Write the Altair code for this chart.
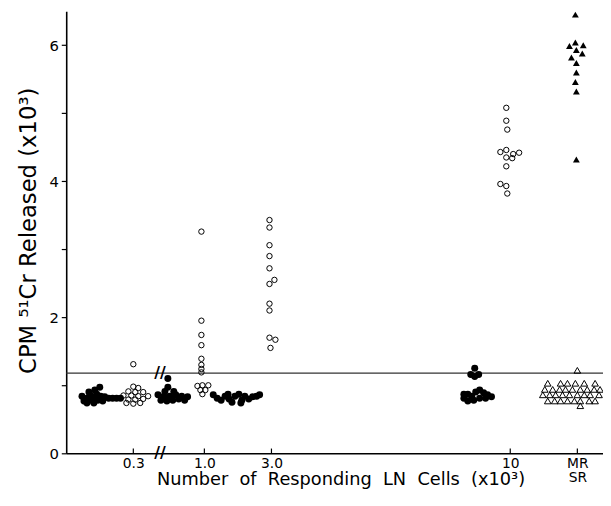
import altair as alt
import pandas as pd

# ---- axis layout (x is a position axis across the plot, 0..544) ----
x_domain = [0, 544]
y_domain = [0, 6.5]
tick_pos = [68, 140, 208, 450, 518]
tick_text = ["0.3", "1.0", "3.0", "10", "MR|SR"]
y_ticks = [0, 1, 2, 3, 4, 5, 6]
cutoff = 1.18          # horizontal reference line
break_pos = 95         # axis break "//"
tick_len = 0.07        # inward tick length on the x axis (data units)

# ---- data: CPM 51Cr released (x10^3) ----
# filled circles, control before 0.3
g1_x = [16, 18, 21, 21, 24, 25, 28, 28, 31, 32, 34, 35, 37, 39, 43, 47, 51, 55, 29, 23]
g1_y = [0.84, 0.77, 0.81, 0.74, 0.86, 0.78, 0.83, 0.74, 0.87, 0.78, 0.97, 0.84, 0.77, 0.83,
        0.81, 0.81, 0.81, 0.81, 0.93, 0.90]
# open circles at 0.3
g2_x = [68, 73, 63, 70, 78, 58, 66, 73, 83, 63, 70, 78, 68, 75, 61, 68]
g2_y = [0.98, 0.96, 0.91, 0.90, 0.90, 0.85, 0.85, 0.84, 0.84, 0.79, 0.79, 0.80, 0.73, 0.74,
        0.74, 1.31]
# filled circles after the break
g3_x = [93, 96, 99, 102, 105, 108, 111, 114, 117, 120, 123, 100, 109, 103, 103]
g3_y = [0.86, 0.78, 0.84, 0.77, 0.84, 0.78, 0.86, 0.80, 0.84, 0.78, 0.83, 0.91, 0.91, 1.10, 0.97]
# open circles at 1.0
g4_x = [137, 137, 137, 137, 137, 137, 137, 137, 133, 138, 144, 136, 141, 138]
g4_y = [3.26, 1.95, 1.74, 1.59, 1.39, 1.30, 1.24, 1.19, 0.99, 1.00, 1.00, 0.93, 0.93, 0.87]
# filled circles after 1.0
g5_x = [149, 153, 157, 161, 165, 168, 171, 175, 178, 181, 185, 189, 193, 196, 164, 177]
g5_y = [0.86, 0.81, 0.78, 0.84, 0.80, 0.75, 0.84, 0.87, 0.78, 0.84, 0.80, 0.83, 0.84, 0.86,
        0.87, 0.74]
# open circles at 3.0
g6_x = [206, 206, 206, 206, 206, 206, 211, 206, 206, 206, 212, 207]
g6_y = [3.43, 3.32, 3.06, 2.90, 2.72, 2.49, 2.55, 2.20, 2.10, 1.70, 1.67, 1.55]
# filled circles before 10
g7_x = [414, 410, 418, 414, 403, 407, 411, 415, 419, 423, 427, 431, 407, 413, 419, 425, 403]
g7_y = [1.25, 1.16, 1.16, 1.13, 0.81, 0.87, 0.84, 0.90, 0.93, 0.89, 0.86, 0.83, 0.77, 0.78,
        0.81, 0.81, 0.87]
# open circles at 10
g8_x = [446, 446, 447, 440, 446, 453, 459, 446, 452, 446, 440, 446, 447]
g8_y = [5.08, 4.89, 4.76, 4.43, 4.46, 4.40, 4.42, 4.35, 4.34, 4.22, 3.96, 3.93, 3.82]
# open triangles (SR)
g9_x = [488, 501, 508, 516, 525, 536,
        485, 493, 500, 506, 513, 521, 528, 535, 541,
        483, 490, 496, 503, 510, 518, 525, 531, 540,
        488, 495, 501, 508, 515, 521, 530, 536,
        521, 518]
g9_y = [1.03, 1.03, 1.03, 1.03, 1.03, 1.03,
        0.94, 0.94, 0.94, 0.94, 0.94, 0.94, 0.94, 0.94, 0.94,
        0.86, 0.86, 0.86, 0.86, 0.86, 0.86, 0.86, 0.86, 0.86,
        0.77, 0.77, 0.77, 0.77, 0.77, 0.77, 0.77, 0.77,
        0.70, 1.22]
# filled triangles (MR)
g10_x = [516, 510, 516, 524, 517, 523, 512, 517, 517, 516, 517, 517]
g10_y = [6.45, 5.99, 6.04, 6.00, 5.93, 5.88, 5.82, 5.74, 5.60, 5.46, 5.32, 4.32]

rows = []
for xs, ys, kind in [(g1_x, g1_y, "fc"), (g2_x, g2_y, "oc"), (g3_x, g3_y, "fc"),
                     (g4_x, g4_y, "oc"), (g5_x, g5_y, "fc"), (g6_x, g6_y, "oc"),
                     (g7_x, g7_y, "fc"), (g8_x, g8_y, "oc"), (g9_x, g9_y, "ot"),
                     (g10_x, g10_y, "ft")]:
    for a, b in zip(xs, ys):
        rows.append({"x": a, "y": b, "kind": kind})
df = pd.DataFrame(rows)

def lab(t):
    if "|" in t:
        return "[" + ",".join("'" + s + "'" for s in t.split("|")) + "]"
    return "'" + t + "'"

label_expr = "".join(f"datum.value == {p} ? {lab(t)} : " for p, t in zip(tick_pos, tick_text)) + "''"

sp = "\u00a0 "   # wide word spacing as in the original lettering
x_title = sp.join(["Number", "of", "Responding", "LN", "Cells", "(x10³)"])

X = alt.X("x:Q", scale=alt.Scale(domain=x_domain, nice=False, zero=False),
          axis=alt.Axis(values=tick_pos, labelExpr=label_expr, grid=False, ticks=False,
                        labelFontSize=14, labelPadding=3,
                        labelLineHeight=15, labelFlush=False, labelOverlap=False,
                        domainWidth=1.6, domainColor="black",
                        labelColor="black",
                        title=x_title,
                        titleFontSize=18, titleFontWeight="normal", titleY=27, titleX=278,
                        titleBaseline="middle", titleAlign="center", titleColor="black"))
Y = alt.Y("y:Q", scale=alt.Scale(domain=y_domain, nice=False, zero=True),
          axis=alt.Axis(values=y_ticks, labelExpr="datum.value % 2 == 0 ? datum.label : ''",
                        grid=False, tickSize=5, tickWidth=1.2, labelFontSize=15,
                        labelPadding=3, domainWidth=1.6, domainColor="black",
                        tickColor="black", labelColor="black",
                        title="CPM ⁵¹Cr Released (x10³)", titleFontSize=23,
                        titleFontWeight="normal", titleX=-38, titleY=222,
                        titleBaseline="middle", titleAlign="center", titleColor="black"))

base = alt.Chart(df).encode(x=X, y=Y)

rule = alt.Chart(pd.DataFrame({"y": [cutoff]})).mark_rule(
    color="#333333", strokeWidth=1.2).encode(y=Y)

xticks = alt.Chart(pd.DataFrame({"x": tick_pos, "y": [0] * len(tick_pos),
                                 "y2": [tick_len] * len(tick_pos)})).mark_rule(
    color="black", strokeWidth=1.2).encode(x=X, y=Y, y2="y2:Q")

fc = base.transform_filter(alt.datum.kind == "fc").mark_point(
    shape="circle", filled=True, color="black", size=50, opacity=1)
oc = base.transform_filter(alt.datum.kind == "oc").mark_point(
    shape="circle", filled=False, color="black", size=30, strokeWidth=1, opacity=1)
ot = base.transform_filter(alt.datum.kind == "ot").mark_point(
    shape="triangle-up", filled=False, color="black", size=45, strokeWidth=1, opacity=1)
ft = base.transform_filter(alt.datum.kind == "ft").mark_point(
    shape="triangle-up", filled=True, color="black", size=48, opacity=1)

breaks = alt.Chart(pd.DataFrame({"x": [break_pos, break_pos], "y": [0, cutoff]})).mark_text(
    text="//", fontSize=16, fontWeight="bold", color="black").encode(x=X, y=Y)

chart = alt.layer(rule, xticks, fc, oc, ot, ft, breaks).properties(
    width=544, height=448,
    padding={"left": 59, "top": 0, "right": 0, "bottom": 42},
    autosize=alt.AutoSizeParams(type="none"),
).configure(font="DejaVu Sans", background="white").configure_view(
    stroke="transparent", strokeWidth=0)

chart.save("out.html", embed_options={"renderer": "svg", "actions": False})
